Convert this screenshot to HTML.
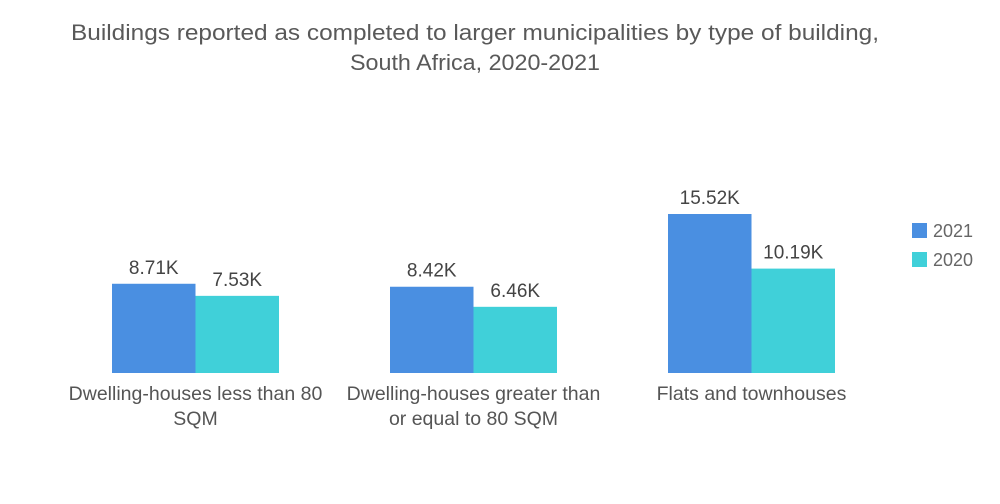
<!DOCTYPE html>
<html><head><meta charset="utf-8"><style>
html,body{margin:0;padding:0;background:#fff;}
svg{display:block;font-family:"Liberation Sans",sans-serif;}
</style></head><body>
<svg id="chart" width="1000" height="504" viewBox="0 0 1000 504">
<g fill="#595959" font-size="22" text-anchor="middle">
<text x="475" y="40" textLength="808" lengthAdjust="spacingAndGlyphs">Buildings reported as completed to larger municipalities by type of building,</text>
<text x="475" y="70" textLength="250" lengthAdjust="spacingAndGlyphs">South Africa, 2020-2021</text>
</g>
<g id="bars"></g>
<g id="labels" fill="#555" font-size="19.5" text-anchor="middle"></g>
<g font-size="18" fill="#666">
<g><rect x="912" y="223" width="15" height="15" fill="#4a8fe1"/><text x="933" y="237">2021</text></g>
<g><rect x="912" y="252" width="15" height="15" fill="#40d0d9"/><text x="933" y="266">2020</text></g>
</g>
</svg>
<script>
const categories=[["Dwelling-houses less than 80","SQM"],["Dwelling-houses greater than","or equal to 80 SQM"],["Flats and townhouses"]];
const series2021=[8.71,8.42,15.52];
const series2020=[7.53,6.46,10.19];
const labels2021=["8.71K","8.42K","15.52K"];
const labels2020=["7.53K","6.46K","10.19K"];
const NS="http://www.w3.org/2000/svg";
const base=373, scale=159/15.52;
const y=v=>base-v*scale;
const groupX=i=>112+i*278;
const bw=83.5;
const bars=document.getElementById('bars'), lab=document.getElementById('labels');
function mk(t,a){const e=document.createElementNS(NS,t);for(const k in a)e.setAttribute(k,a[k]);return e;}
categories.forEach((c,i)=>{
  [[series2021,labels2021,"#4a8fe1",0,"2021"],[series2020,labels2020,"#40d0d9",1,"2020"]].forEach(([s,l,col,j,yr])=>{
    const x=groupX(i)+j*bw;
    const r=mk('rect',{x:x,y:y(s[i]),width:bw,height:base-y(s[i]),fill:col});
    
    
    bars.appendChild(r);
    const t=mk('text',{x:x+bw/2,y:y(s[i])-10,'text-anchor':'middle','font-size':'19',fill:'#444'});
    
    
    t.textContent=l[i];bars.appendChild(t);
  });
  c.forEach((line,k)=>{
    const t=mk('text',{x:groupX(i)+bw,y:400+k*25});
    
    
    t.textContent=line;lab.appendChild(t);
  });
});
</script>
</body></html>
